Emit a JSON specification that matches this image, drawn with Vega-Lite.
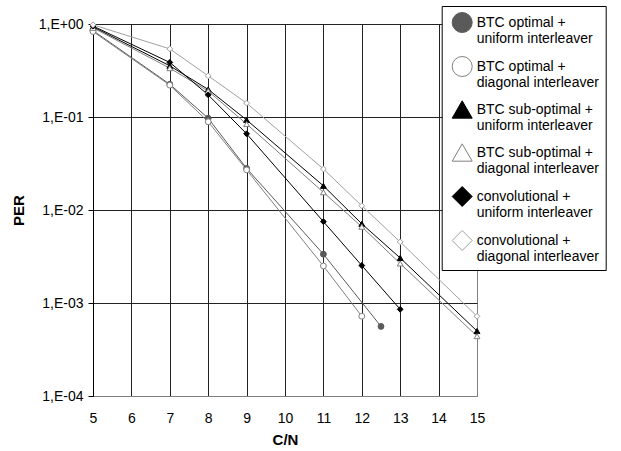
{
  "$schema": "https://vega.github.io/schema/vega-lite/v6.json",
  "width": 384,
  "height": 372,
  "autosize": {"type": "none"},
  "padding": {"left": 93, "top": 24, "right": 144, "bottom": 55},
  "background": "white",
  "config": {
    "font": "Liberation Sans",
    "view": {"stroke": "#808080", "strokeWidth": 1},
    "axis": {"labelFont": "Liberation Sans", "titleFont": "Liberation Sans"}
  },
  "data": {
    "values": [
      {"series": "BTC optimal + uniform interleaver", "cn": 5, "per": 0.85},
      {"series": "BTC optimal + uniform interleaver", "cn": 7, "per": 0.225},
      {"series": "BTC optimal + uniform interleaver", "cn": 8, "per": 0.097},
      {"series": "BTC optimal + uniform interleaver", "cn": 9, "per": 0.028},
      {"series": "BTC optimal + uniform interleaver", "cn": 11, "per": 0.00335},
      {"series": "BTC optimal + uniform interleaver", "cn": 12.5, "per": 0.00056},
      {"series": "BTC optimal + diagonal interleaver", "cn": 5, "per": 0.83},
      {"series": "BTC optimal + diagonal interleaver", "cn": 7, "per": 0.22},
      {"series": "BTC optimal + diagonal interleaver", "cn": 8, "per": 0.089},
      {"series": "BTC optimal + diagonal interleaver", "cn": 9, "per": 0.027},
      {"series": "BTC optimal + diagonal interleaver", "cn": 11, "per": 0.0025},
      {"series": "BTC optimal + diagonal interleaver", "cn": 12, "per": 0.00072},
      {"series": "BTC sub-optimal + uniform interleaver", "cn": 5, "per": 0.93},
      {"series": "BTC sub-optimal + uniform interleaver", "cn": 7, "per": 0.355},
      {"series": "BTC sub-optimal + uniform interleaver", "cn": 8, "per": 0.198},
      {"series": "BTC sub-optimal + uniform interleaver", "cn": 9, "per": 0.093},
      {"series": "BTC sub-optimal + uniform interleaver", "cn": 11, "per": 0.0182},
      {"series": "BTC sub-optimal + uniform interleaver", "cn": 12, "per": 0.0071},
      {"series": "BTC sub-optimal + uniform interleaver", "cn": 13, "per": 0.00305},
      {"series": "BTC sub-optimal + uniform interleaver", "cn": 15, "per": 0.0005},
      {"series": "BTC sub-optimal + diagonal interleaver", "cn": 5, "per": 0.91},
      {"series": "BTC sub-optimal + diagonal interleaver", "cn": 7, "per": 0.335},
      {"series": "BTC sub-optimal + diagonal interleaver", "cn": 8, "per": 0.19},
      {"series": "BTC sub-optimal + diagonal interleaver", "cn": 9, "per": 0.084},
      {"series": "BTC sub-optimal + diagonal interleaver", "cn": 11, "per": 0.0155},
      {"series": "BTC sub-optimal + diagonal interleaver", "cn": 12, "per": 0.0066},
      {"series": "BTC sub-optimal + diagonal interleaver", "cn": 13, "per": 0.00266},
      {"series": "BTC sub-optimal + diagonal interleaver", "cn": 15, "per": 0.00044},
      {"series": "convolutional + uniform interleaver", "cn": 5, "per": 0.95},
      {"series": "convolutional + uniform interleaver", "cn": 7, "per": 0.386},
      {"series": "convolutional + uniform interleaver", "cn": 8, "per": 0.173},
      {"series": "convolutional + uniform interleaver", "cn": 9, "per": 0.066},
      {"series": "convolutional + uniform interleaver", "cn": 11, "per": 0.0075},
      {"series": "convolutional + uniform interleaver", "cn": 12, "per": 0.00253},
      {"series": "convolutional + uniform interleaver", "cn": 13, "per": 0.000855},
      {"series": "convolutional + diagonal interleaver", "cn": 5, "per": 0.98},
      {"series": "convolutional + diagonal interleaver", "cn": 7, "per": 0.54},
      {"series": "convolutional + diagonal interleaver", "cn": 8, "per": 0.277},
      {"series": "convolutional + diagonal interleaver", "cn": 9, "per": 0.141},
      {"series": "convolutional + diagonal interleaver", "cn": 11, "per": 0.0276},
      {"series": "convolutional + diagonal interleaver", "cn": 12, "per": 0.0111},
      {"series": "convolutional + diagonal interleaver", "cn": 13, "per": 0.00454},
      {"series": "convolutional + diagonal interleaver", "cn": 15, "per": 0.00072}
    ]
  },
  "encoding": {
    "x": {
      "field": "cn", "type": "quantitative", "title": "C/N",
      "scale": {"domain": [5, 15], "nice": false, "zero": false},
      "axis": {
        "values": [5, 6, 7, 8, 9, 10, 11, 12, 13, 14, 15],
        "grid": true,
        "gridColor": {"condition": {"test": "datum.value >= 15", "value": "#808080"}, "value": "#222222"},
        "gridOpacity": 1,
        "ticks": false,
        "tickSize": 0,
        "domainColor": "#808080",
        "labelFontSize": 14,
        "labelColor": "black",
        "labelPadding": 15,
        "labelFlush": false,
        "titleFontSize": 15,
        "titleFontWeight": "bold",
        "titleColor": "black",
        "titlePadding": 7
      }
    },
    "y": {
      "field": "per", "type": "quantitative", "title": "PER",
      "scale": {"type": "log", "domain": [0.0001, 1], "nice": false},
      "axis": {
        "values": [1, 0.1, 0.01, 0.001, 0.0001],
        "labelExpr": "'1,E' + (datum.value >= 0.99 ? '+00' : '-0' + format(-log(datum.value)/LN10, '.0f'))",
        "grid": true,
        "gridColor": {"condition": {"test": "datum.value < 0.0005", "value": "#808080"}, "value": "#222222"},
        "gridOpacity": 1,
        "domainColor": "black",
        "tickColor": "black",
        "tickSize": 5,
        "labelFontSize": 14,
        "labelColor": "black",
        "labelPadding": 5,
        "labelFlush": false,
        "titleFontSize": 15,
        "titleFontWeight": "bold",
        "titleColor": "black",
        "titlePadding": 12
      }
    }
  },
  "layer": [
    {
      "mark": {"type": "line", "strokeWidth": 1},
      "encoding": {
        "color": {
          "field": "series", "type": "nominal", "legend": null,
          "scale": {
            "range": ["#808080", "#5a5a5a", "#808080", "#000000", "#a0a0a0", "#000000"]
          }
        }
      }
    },
    {
      "mark": {"type": "point", "size": 34, "strokeWidth": 1, "opacity": 1, "fillOpacity": 1},
      "encoding": {
        "stroke": {
          "field": "series", "type": "nominal",
          "scale": {
            "domain": ["BTC optimal + uniform interleaver", "BTC optimal + diagonal interleaver", "BTC sub-optimal + uniform interleaver", "BTC sub-optimal + diagonal interleaver", "convolutional + uniform interleaver", "convolutional + diagonal interleaver"],
            "range": ["#5a5a5a", "#808080", "#000000", "#808080", "#000000", "#a0a0a0"]
          },
          "legend": {
            "title": null,
            "orient": "none",
            "legendX": 348.7,
            "legendY": -18,
            "direction": "vertical",
            "fillColor": "white",
            "strokeColor": "black",
            "cornerRadius": 0,
            "padding": 6,
            "symbolOffset": 4,
            "symbolSize": 400,
            "symbolStrokeWidth": 1,
            "labelFontSize": 14,
            "labelColor": "black",
            "labelFont": "Liberation Sans",
            "labelOffset": 4,
            "labelLimit": 300,
            "rowPadding": 8,
            "labelExpr": "[substring(datum.label, 0, indexof(datum.label, ' + ') + 2), substring(datum.label, indexof(datum.label, ' + ') + 3)]",
            "encode": {
              "symbols": {
                "shape": {"value": {"expr": "indexof(datum.value, 'BTC optimal') >= 0 ? 'M-1,0H-0.25M0.25,0H1M-0.25,0A0.25,0.25,0,1,1,0.25,0A0.25,0.25,0,1,1,-0.25,0Z' : (indexof(datum.value, 'sub-optimal') >= 0 ? 'M-1,0H-0.18M0.18,0H1M0,-0.33L0.3,0.22L-0.3,0.22Z' : 'M-1,0H-0.3M0.3,0H1M0,-0.3L0.3,0L0,0.3L-0.3,0Z')"}}
              }
            }
          }
        },
        "fill": {
          "field": "series", "type": "nominal",
          "scale": {
            "domain": ["BTC optimal + uniform interleaver", "BTC optimal + diagonal interleaver", "BTC sub-optimal + uniform interleaver", "BTC sub-optimal + diagonal interleaver", "convolutional + uniform interleaver", "convolutional + diagonal interleaver"],
            "range": ["#5a5a5a", "#ffffff", "#000000", "#ffffff", "#000000", "#ffffff"]
          }
        },
        "shape": {
          "field": "series", "type": "nominal",
          "scale": {
            "domain": ["BTC optimal + uniform interleaver", "BTC optimal + diagonal interleaver", "BTC sub-optimal + uniform interleaver", "BTC sub-optimal + diagonal interleaver", "convolutional + uniform interleaver", "convolutional + diagonal interleaver"],
            "range": ["circle", "circle", "triangle-up", "triangle-up", "diamond", "diamond"]
          }
        }
      }
    }
  ]
}
